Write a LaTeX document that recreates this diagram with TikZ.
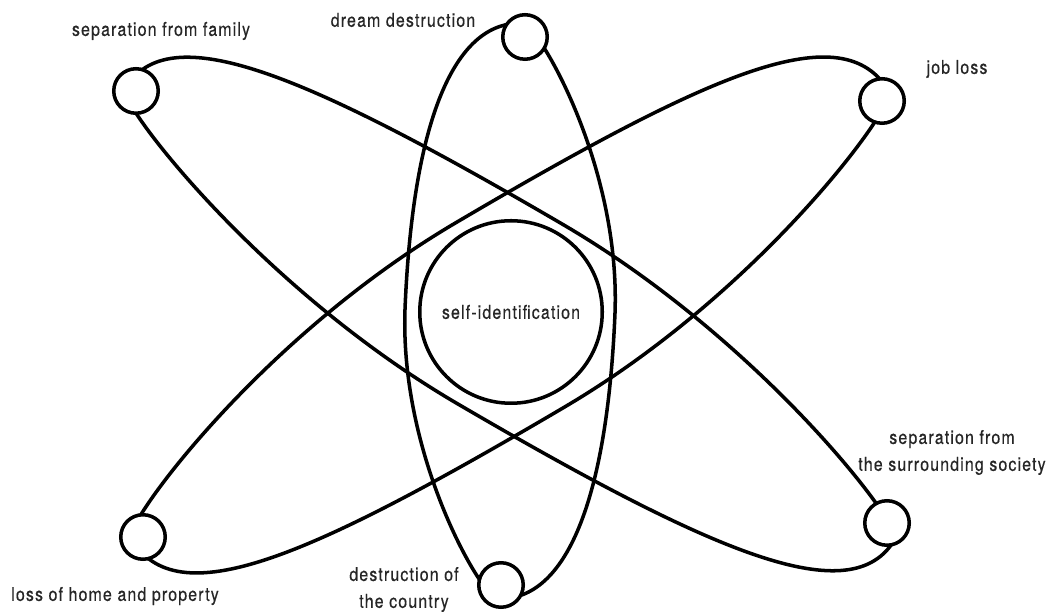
\documentclass[tikz,border=0pt]{standalone}
\usepackage{fontspec}
\setmainfont{TeX Gyre Heros}[FakeStretch=0.84,LetterSpace=6,FakeBold=0.4]
\usepackage{tikz}
\definecolor{inkgray}{HTML}{262626}
\tikzset{
  % baner
  orbit/.style={draw=black,line width=2pt,line join=round},
  moon/.style={circle,draw=black,fill=white,line width=2pt,inner sep=0pt,
               minimum size=8.9mm},
  core/.style={circle,draw=black,fill=white,line width=2pt,inner sep=0pt,
               minimum size=36.5mm,font=\fontsize{10.8}{15.3}\selectfont,text=inkgray},
  % texter
  tag/.style={font=\fontsize{10.8}{15.3}\selectfont,text=inkgray,inner sep=0pt,
              align=center},
}
\begin{document}
\begin{tikzpicture}
  \useasboundingbox (0,0) rectangle (21.08,12.28);
  % banor
  \draw[orbit,shift={(10.20,6.00)},rotate=-30.3]
    (0,2.08) .. controls (-6,2.08) and (-8.92,1.7) .. (-8.92,0)
    .. controls (-8.92,-0.3) and (-4.6,-2.08) .. (0,-2.08)
    .. controls (6,-2.08) and (8.92,-1.7) .. (8.92,0)
    .. controls (8.92,0.3) and (4.6,2.08) .. cycle;
  \draw[orbit,shift={(10.20,5.98)},rotate=30.5]
    (0,2.14) .. controls (6,2.14) and (8.8,1.8) .. (8.8,0)
    .. controls (8.8,-0.3) and (4.6,-2.14) .. (0,-2.14)
    .. controls (-6,-2.14) and (-8.8,-1.8) .. (-8.8,0)
    .. controls (-8.8,0.3) and (-4.6,2.14) .. cycle;
  \draw[orbit,shift={(10.20,6.06)},rotate=87.5]
    (0,2.10) .. controls (3.9,2.10) and (5.76,1.3) .. (5.76,0)
    .. controls (5.76,-0.3) and (3,-2.10) .. (0,-2.10)
    .. controls (-3.9,-2.10) and (-5.76,-1.3) .. (-5.76,0)
    .. controls (-5.76,0.3) and (-3,2.10) .. cycle;
  % kärna och satelliter
  \node[core] (self) at (10.22,6.04) {self-identification};
  \node[moon] (fam) at (2.72,10.46) {};
  \node[moon] (dream) at (10.50,11.54) {};
  \node[moon] (job) at (17.64,10.26) {};
  \node[moon] (home) at (2.86,1.54) {};
  \node[moon] (country) at (10.02,0.58) {};
  \node[moon] (society) at (17.74,1.82) {};
  % etiketter
  \node[tag] (famtxt) at (3.22,11.66) {separation from family};
  \node[tag] (dreamtxt) at (8.06,11.88) {dream destruction};
  \node[tag] (jobtxt) at (19.14,10.90) {job loss};
  \node[tag] (societytxt) at (19.04,3.23) {separation from\\the surrounding society};
  \node[tag] (hometxt) at (2.30,0.36) {loss of home and property};
  \node[tag] (countrytxt) at (8.08,0.49) {destruction of\\the country};
\end{tikzpicture}
\end{document}
